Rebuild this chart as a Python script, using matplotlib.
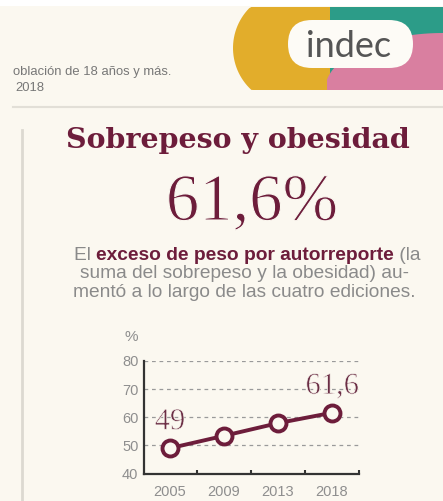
import matplotlib
matplotlib.use('Agg')
import matplotlib.pyplot as plt
import matplotlib.patheffects as pe
import numpy as np
from matplotlib.patches import FancyBboxPatch, Polygon, Rectangle

# datos
years = ['2005', '2009', '2013', '2018']
exceso_peso = [49.0, 53.4, 57.9, 61.6]
y_ticks = [40, 50, 60, 70, 80]
etiquetas = {0: '49', 3: '61,6'}

fondo = '#fbf8f0'
bordo = '#6d1d3b'
gris = '#8a8a8a'

# adelgaza un poco las letras (la fuente original es light)
fino = [pe.Stroke(linewidth=0.8, foreground=fondo)]

fig = plt.figure(figsize=(4.43, 5.01), dpi=100)
fig.patch.set_facecolor(fondo)

# capa de fondo, en pixeles
bg = fig.add_axes([0, 0, 1, 1])
bg.set_xlim(0, 443)
bg.set_ylim(501, 0)
bg.axis('off')

# franja blanca arriba
bg.add_patch(Rectangle((0, 0), 443, 6, color='#ffffff', lw=0))

# logo: amarillo, verde, rosa
ang = np.linspace(np.pi / 2, 3 * np.pi / 2, 60)
amarillo = [(290 + 57 * np.cos(a), 48 - 57 * np.sin(a)) for a in ang]
amarillo = [(x, min(max(y, 7), 90)) for x, y in amarillo]
amarillo = [(330, 90), (330, 7)] + amarillo
bg.add_patch(Polygon(amarillo, closed=True, color='#e2ad2b', lw=0))
bg.add_patch(Rectangle((330, 7), 113, 83, color='#2c9c88', lw=0))
t = np.linspace(np.pi, np.pi / 2, 60)
rosa = [(443 + 118 * np.cos(a), 90 - 57 * np.sin(a)) for a in t]
rosa = [(x, y) for x, y in rosa if x >= 327]
rosa = [(327, 90)] + rosa + [(443, 90)]
bg.add_patch(Polygon(rosa, closed=True, color='#d97fa0', lw=0))
bg.add_patch(FancyBboxPatch((288, 20), 125, 48,
                            boxstyle='round,pad=0,rounding_size=24',
                            fc='#fdfbf6', ec='none'))
bg.text(349, 46, 'indec', ha='center', va='center', fontsize=26,
        family='Lato', color='#555555')

# encabezado
bg.text(13, 75, 'oblación de 18 años y más.', fontsize=9.4,
        family='Liberation Sans', color='#777777', va='baseline')
bg.text(15, 91, '2018', fontsize=9.4,
        family='Liberation Sans', color='#777777', va='baseline')

# lineas grises
bg.plot([13, 443], [107, 107], color='#e2dfd7', lw=1.5)
bg.plot([22, 22], [130, 501], color='#dcd9d1', lw=2)

# titulo y cifra
bg.text(238, 148, 'Sobrepeso y obesidad', ha='center', va='baseline',
        fontsize=20.5, fontweight='bold', family='DejaVu Serif', color=bordo)
bg.text(252, 220, '61,6%', ha='center', va='baseline',
        fontsize=48, family='Liberation Serif', color=bordo,
        path_effects=fino)

# parrafo
r = fig.canvas.get_renderer()


def linea(partes, xc, y):
    textos = []
    for s, c, w in partes:
        textos.append(bg.text(0, y, s, color=c, fontweight=w, fontsize=13.8,
                              family='Liberation Sans', va='baseline'))
    anchos = [tx.get_window_extent(r).width for tx in textos]
    x = xc - sum(anchos) / 2
    for tx, a in zip(textos, anchos):
        tx.set_x(x)
        x += a


linea([('El ', gris, 'normal'),
       ('exceso de peso por autorreporte', bordo, 'bold'),
       (' (la', gris, 'normal')], 247, 260)
linea([('suma del sobrepeso y la obesidad) au-', gris, 'normal')], 245, 278.5)
linea([('mentó a lo largo de las cuatro ediciones.', gris, 'normal')], 244, 297)

# grafico
ax = fig.add_axes([144 / 443, 27.5 / 501, 215 / 443, 112.5 / 501])
ax.set_facecolor('none')
ax.set_xlim(-0.48, 3.5)
ax.set_ylim(40, 80)
for v in y_ticks[1:]:
    ax.axhline(v, color='#9a9a9a', lw=0.9, ls=(0, (3, 3)), zorder=1)
x = np.arange(len(years))
ax.plot(x, exceso_peso, color=bordo, lw=2.8, marker='o', ms=11.5,
        mfc=fondo, mec=bordo, mew=2.8, zorder=3, clip_on=False)
for i, s in etiquetas.items():
    ax.annotate(s, (x[i], exceso_peso[i]), xytext=(0, 19),
                textcoords='offset points', ha='center', va='center',
                fontsize=22, family='Liberation Serif', color='#6b2e45',
                path_effects=[pe.Stroke(linewidth=0.5, foreground=fondo)])

for s in ['top', 'right']:
    ax.spines[s].set_visible(False)
for s in ['left', 'bottom']:
    ax.spines[s].set_color('#333333')
    ax.spines[s].set_linewidth(1.6)
ax.set_yticks(y_ticks)
ax.set_xticks(x, years)
ax.set_xticks([0.5, 1.5, 2.5, 3.5], minor=True)
ax.tick_params(axis='y', length=0, pad=4, labelsize=10.5, labelcolor='#8e8e8e')
ax.tick_params(axis='x', which='major', length=0, pad=8, labelsize=10.5,
               labelcolor='#8e8e8e')
ax.tick_params(axis='x', which='minor', direction='in', length=3, width=1.5,
               color='#333333')
for lab in ax.get_xticklabels() + ax.get_yticklabels():
    lab.set_family('Liberation Sans')
bg.text(131, 337, '%', ha='center', va='center', fontsize=11,
        family='Liberation Sans', color='#8e8e8e')

fig.savefig('out.png', dpi=100, facecolor=fondo)
